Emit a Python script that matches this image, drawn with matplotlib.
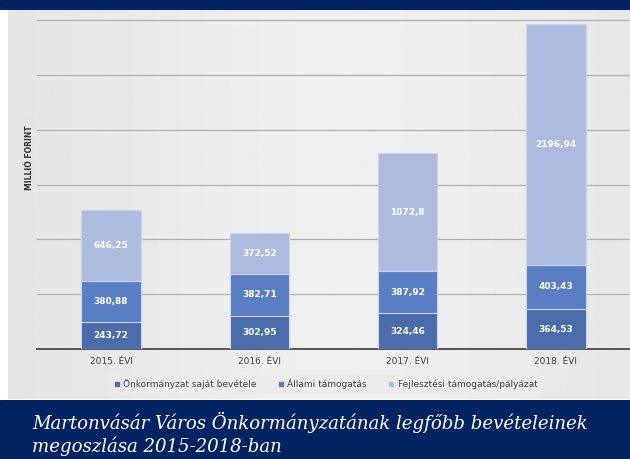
import numpy as np
import matplotlib
matplotlib.use("Agg")
import matplotlib.pyplot as plt
from matplotlib.patches import Rectangle
from matplotlib.lines import Line2D

categories = ["2015. ÉVI", "2016. ÉVI", "2017. ÉVI", "2018. ÉVI"]
sajat = [243.72, 302.95, 324.46, 364.53]
allami = [380.88, 382.71, 387.92, 403.43]
fejlesztesi = [646.25, 372.52, 1072.8, 2196.94]
labels_sajat = ["243,72", "302,95", "324,46", "364,53"]
labels_allami = ["380,88", "382,71", "387,92", "403,43"]
labels_fejl = ["646,25", "372,52", "1072,8", "2196,94"]
series_names = ["Önkormányzat saját bevétele", "Állami támogatás", "Fejlesztési támogatás/pályázat"]
colors = ["#4a6cab", "#5a7ec4", "#adbcde"]

W, H = 630, 459
fig = plt.figure(figsize=(W / 100, H / 100), dpi=100)
fig.patch.set_facecolor("white")

def fx(px):
    return px / W

def fy(py):
    return 1 - py / H

# gray background with subtle horizontal gradient
bg = fig.add_axes([fx(8), fy(399), fx(630 - 8), (399 - 10) / H])
bg.set_axis_off()
xs = np.linspace(0, 1, 300)
grad = 0.895 + 0.045 * np.exp(-((xs - 0.55) / 0.38) ** 2)
img = np.tile(grad, (10, 1))
bg.imshow(img, cmap="gray", vmin=0, vmax=1, aspect="auto", extent=[0, 1, 0, 1])
bg.set_xlim(0, 1)
bg.set_ylim(0, 1)

# navy bands
top = fig.add_axes([0, fy(10), 1, 10 / H])
top.set_axis_off()
top.add_patch(Rectangle((0, 0), 1, 1, color="#022462", transform=top.transAxes))
bot = fig.add_axes([0, 0, 1, (H - 400) / H])
bot.set_axis_off()
bot.add_patch(Rectangle((0, 0), 1, 1, color="#022462", transform=bot.transAxes))
bot.text(fx(32), 0.62, "Martonvásár Város Önkormányzatának legfőbb bevételeinek",
         transform=bot.transAxes, color="white", fontsize=13.1, fontstyle="italic",
         family="DejaVu Serif", va="center", ha="left")
bot.text(fx(32), 0.21, "megoszlása 2015-2018-ban",
         transform=bot.transAxes, color="white", fontsize=13.1, fontstyle="italic",
         family="DejaVu Serif", va="center", ha="left")

# main axes
ax = fig.add_axes([fx(37), fy(349), fx(630 - 37), (349 - 20) / H])
ax.patch.set_alpha(0)
x = np.arange(len(categories))
w = 0.40
ax.bar(x, sajat, w, color=colors[0], edgecolor="#c9d3ea", linewidth=0.8, zorder=3)
ax.bar(x, allami, w, bottom=sajat, color=colors[1], edgecolor="#c9d3ea", linewidth=0.8, zorder=3)
bottom3 = np.array(sajat) + np.array(allami)
ax.bar(x, fejlesztesi, w, bottom=bottom3, color=colors[2], edgecolor="#c9d3ea", linewidth=0.8, zorder=3)

for i in range(len(categories)):
    ax.text(x[i], sajat[i] / 2, labels_sajat[i], ha="center", va="center",
            color="white", fontsize=6.5, fontweight="bold", zorder=4)
    ax.text(x[i], sajat[i] + allami[i] / 2, labels_allami[i], ha="center", va="center",
            color="white", fontsize=6.5, fontweight="bold", zorder=4)
    ax.text(x[i], bottom3[i] + fejlesztesi[i] / 2, labels_fejl[i], ha="center", va="center",
            color="white", fontsize=6.5, fontweight="bold", zorder=4)

ax.set_xlim(-0.5, 3.5)
ax.set_ylim(0, 3000)
ax.set_yticks([500, 1000, 1500, 2000, 2500, 3000])
ax.yaxis.grid(True, color="#b0b0b0", linewidth=0.9, zorder=0)
ax.set_yticklabels([])
ax.tick_params(axis="y", length=0)
ax.tick_params(axis="x", length=0, labelsize=6.5, labelcolor="#404040", pad=6)
ax.set_xticks(x)
ax.set_xticklabels(categories)
for s in ["top", "right", "left"]:
    ax.spines[s].set_visible(False)
ax.spines["bottom"].set_color("#555555")
ax.spines["bottom"].set_linewidth(1.4)
for gl in ax.get_ygridlines():
    gl.set_clip_on(False)

fig.text(fx(29), fy(158), "MILLIÓ FORINT", rotation=90, ha="center", va="center",
         fontsize=5.5, fontweight="bold", color="#333333")

# legend
handles = [Line2D([], [], marker="s", linestyle="", markersize=3.5, color=c) for c in colors]
leg = fig.legend(handles, series_names, loc="center", bbox_to_anchor=(fx(325), fy(384)),
                 ncol=3, fontsize=6.5, frameon=True, handletextpad=0.2, columnspacing=2.2,
                 borderpad=0.5, handlelength=1.0)
leg.get_frame().set_facecolor("#ececec")
leg.get_frame().set_edgecolor("none")
leg.get_frame().set_boxstyle("square", pad=0)
for t in leg.get_texts():
    t.set_color("#404040")

fig.savefig("out.png", dpi=100)
